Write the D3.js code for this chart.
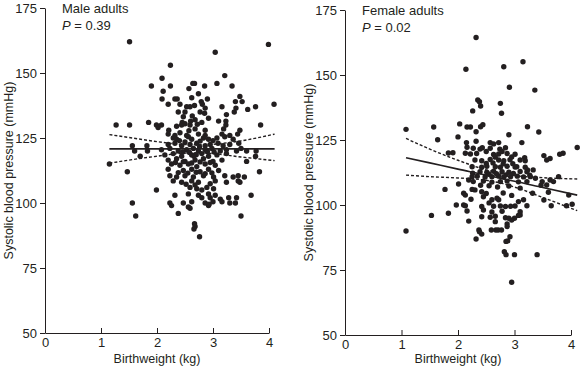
<!DOCTYPE html>
<html>
<head>
<meta charset="utf-8">
<script src="https://cdn.jsdelivr.net/npm/d3@7"></script>
<style>
  body { margin: 0; background: #fff; }
  svg text { font-family: "Liberation Sans", Arial, Helvetica, sans-serif; fill: #231f20; }
</style>
</head>
<body>
<div id="chart"></div>
<script>
// tick values and labels
var yTicks = [50, 75, 100, 125, 150, 175];
var xTicks = [0, 1, 2, 3, 4];

// Male adults: [birthweight kg, systolic mmHg]
var malePoints = [
  [1.51,162],[3.99,161],[3.04,158],[2.24,153],[2.09,148],[3.21,149],[1.9,145],[2.24,145],
  [2.64,146],[2.67,146],[2.85,145],[3.07,146],[3.34,145],[2.11,143],[2.57,144],[2.74,142],
  [2.09,140],[2.32,140],[2.36,140],[2.62,140.5],[2.79,139],[2.81,138],[2.9,140],[3.48,141],
  [3.4,139],[3.52,139],[4.09,138],[2.2,138],[2.41,138],[2.53,137],[2.59,137],[2.67,137.5],
  [2.86,136.5],[3.16,137],[3.41,136.5],[3.62,136],[3.76,137],[2.38,135],[2.5,135],[2.77,135],
  [2.85,134.5],[3.24,134],[3.38,135],[2.68,132],[2.8,131],[3.23,131.5],[2.45,131],[2.6,131.5],
  [1.27,130],[1.51,130],[1.85,131],[1.99,130],[2.02,129],[3.85,130],[2.08,130],[2.35,129.5],
  [2.44,130],[2.5,130.5],[2.59,130],[3.23,130],[2.21,128],[2.68,128.5],[2.86,128],[3.19,128.5],
  [3.48,128],[2.2,126.5],[2.32,126],[2.41,127],[2.53,126],[2.74,126.5],[2.86,126],[3.16,126.5],
  [3.3,126],[3.44,126.5],
  [2.29,125],[2.35,124.5],[2.56,125.5],[2.83,125],[2.92,124.5],[3.07,125],[3.21,125.5],[3.36,124.5],
  [2.2,122.5],[2.32,123],[2.44,122],[2.59,122.5],[2.71,123],[2.86,122],[2.95,122.5],[3.09,123],
  [3.18,122],[3.3,122.5],
  [2.08,120.5],[2.23,121],[2.38,120],[2.53,120.5],[2.65,121],[2.74,120],[2.86,120.5],[2.98,121],
  [3.13,120],[3.24,120.5],[3.42,120],
  [2.14,118.5],[2.29,119],[2.44,118],[2.62,118.5],[2.8,119],[2.92,118],[3.07,118.5],[3.24,119],
  [2.2,116.5],[2.35,117],[2.5,116],[2.68,116.5],[2.83,117],[3.0,116],[3.16,116.5],
  [2.26,115],[2.41,114.5],[2.56,115],[2.71,114],[2.86,115],[3.04,114.5],
  [2.2,113],[2.47,112.5],[2.62,113],[2.77,112],[2.92,113],[3.1,112.5],
  [2.23,110.5],[2.35,110],[2.5,110.5],[2.65,110],[2.83,110.5],[3.01,110],[3.21,110.5],[3.36,110],
  [3.45,110.5],
  [2.29,108.5],[2.44,108],[2.62,108.5],[2.74,108],[3.04,108.5],[3.24,108],[3.45,108.5],
  [1.99,105],[2.59,106],[2.71,105.5],[2.89,106],[3.01,105.5],
  [2.32,103],[2.56,103.5],[2.74,103],[2.92,103.5],[3.04,103],
  [2.95,102],[3.13,101.5],[3.28,102],
  [2.23,100],[2.47,100],[2.62,100.5],[2.86,100],[3.16,100.5],[3.4,100],
  [2.26,99],[2.56,98.5],[2.92,99],[2.38,96],
  [1.15,115],[1.47,112],[1.56,122],[1.6,120],[1.7,118],[1.82,122],[1.83,120],[1.56,100],
  [1.62,95],[3.6,120],[3.77,120],[3.76,118],[3.6,116],[3.83,112],[3.48,108],[3.56,110],
  [3.5,95],[3.68,103],[3.42,102],[3.3,100],[3.46,123],[3.5,121],
  [2.67,92],[2.68,91],[2.66,90],[2.76,87],[2.59,98],[2.8,102],[2.93,99.5],[3.0,100.5],
  [2.4,124],[2.5,123.5],[2.62,124.5],[2.77,123.8],[3.0,124],[2.46,119.6],[2.58,119.4],[2.7,118.6],
  [2.9,119.8],[3.02,119.6],[2.33,115.6],[2.47,115.9],[2.62,115.4],[2.77,115.8],[2.95,115.6],
  [2.38,111.7],[2.55,111.5],[2.7,111.8],[2.86,111.3],[2.98,111.6],[2.68,106.9],[2.8,105],
  [2.52,107.2],[2.95,107.4],[2.66,118],[2.76,121.6],[2.57,127.8],[2.63,133.5],[2.47,133.2],
  [2.92,132.6],[3.1,131.5],[2.72,130.3]
];

// Female adults: [birthweight kg, systolic mmHg]
var femalePoints = [
  [2.32,164.4],[2.14,152.2],[2.81,153.2],[3.15,155.1],[2.91,145.3],[3.36,144.2],[2.35,140.4],
  [2.38,139.7],[2.4,138.1],[2.75,139.1],[2.26,136.2],[2.77,135.3],[3.43,128.1],[2.9,127],
  [3.23,130.1],[2.32,128.2],[2.4,130.1],[2.44,130.9],[1.08,129.1],[1.57,130],[1.64,125.1],
  [2.03,131.2],[2.16,130],[2.22,130],[1.83,120],[2.0,126.2],[1.08,90],[1.53,96],[1.83,96.8],
  [1.77,106],[2.01,108.1],[1.97,100],[2.1,100],[2.19,93.8],[2.37,90.4],[2.42,88.8],[2.32,86.9],
  [2.59,90.4],[2.67,90.4],[2.71,90.4],[2.77,90.4],[2.66,93.6],[2.87,92.7],[2.85,86],[2.88,86.2],
  [2.82,82],[2.85,80.9],[3.0,80.9],[3.4,80.9],[2.95,70.3],[2.92,87.8],[3.0,94.9],[3.1,96.2],
  [3.1,97.4],[4.11,122.1],[3.86,119.9],[3.8,119.5],[3.63,117.9],[3.57,117.3],[3.52,119],
  [3.78,110.9],[3.92,99.7],[3.96,103.8],[3.65,99.7],[3.52,101.9],[3.6,104.9],[3.32,104.5],
  [3.22,99.7],[3.47,107.6],[3.63,109.6],[3.18,118.2],[3.23,113.5],[3.33,113.5],[3.27,111.5],
  [3.37,110.3],[3.49,109],[3.57,107.7],[3.69,109],[4.02,100.3],
  [2.15,124],[2.32,124.5],[2.57,124],[2.63,123.5],[2.72,124],[3.13,124],[1.91,120.1],
  [2.16,122.2],[2.13,119.9],
  [2.27,121.8],[2.39,121.5],[2.43,122],[2.57,121.8],[2.74,121.5],[2.84,122],
  [2.22,119.6],[2.33,119.8],[2.63,119.4],[2.72,119.6],[2.87,119.8],[3.01,119.5],
  [2.3,117.3],[2.42,117],[2.57,117.5],[2.72,117.3],[2.81,117],[2.92,117.4],[3.1,117.3],[3.19,117],
  [2.25,114.7],[2.42,114.5],[2.51,114.9],[2.66,114.7],[2.75,114.5],[2.87,114.9],[3.01,114.6],
  [3.04,114.7],[3.19,114.5],
  [2.39,112.8],[2.51,112.6],[2.63,113],[2.78,112.8],[2.9,112.6],[3.1,112.9],[3.22,112.8],
  [2.25,110.9],[2.34,111.1],[2.48,110.8],[2.6,110.9],[2.72,111.2],[2.81,110.8],[2.93,110.9],
  [3.05,111.1],[3.16,110.8],[3.28,110.9],
  [2.27,109],[2.45,109.2],[2.6,108.8],[2.75,109],[2.87,109.2],[3.07,108.9],[3.22,109],
  [2.19,109.6],[2.26,112.2],[2.1,104.5],[2.3,105.8],
  [2.25,106],[2.42,105.1],[2.45,103.2],[2.13,103.8],[2.13,99.7],[2.23,102.2],[2.16,97.7],
  [2.42,99.4],[2.45,98.1],[2.6,102],[2.69,102.6],[2.72,102],
  [2.63,99.5],[2.75,99.6],[2.84,99.4],[2.93,99.5],[3.01,99.6],[3.07,101.3],[3.16,102],
  [2.42,95.5],[2.57,95.3],[2.66,95.7],[3.07,96],[2.95,94.2],[2.84,95.1],[2.9,94.9],
  [2.87,91.7],[2.38,89.7],
  [2.5,120.6],[2.66,118.4],[2.78,120.6],[2.95,118.5],[2.5,116],[2.62,116.2],[2.8,115.8],
  [2.97,115.9],[2.55,111.8],[2.68,112],[2.85,111.6],[2.98,112.1],[2.4,107.6],[2.55,107.4],
  [2.7,106.9],[2.9,107.3],[3.1,106.5],[2.5,104.4],[2.8,104.6],[2.95,103.7],[2.55,100.8],
  [2.78,97.6],[2.6,97.3]
];

// fitted lines with 95% CI
var maleFitX  = [1.15, 1.5, 2.0, 2.5, 2.8, 3.0, 3.5, 4.1];
var maleFit   = [120.8, 120.8, 120.8, 120.8, 120.8, 120.8, 120.8, 120.8];
var maleLow   = [115.3, 116.5, 118.0, 119.2, 119.3, 119.0, 117.7, 116.3];
var maleHigh  = [126.3, 125.2, 123.6, 122.5, 122.4, 122.6, 123.9, 126.5];

var femaleFitX = [1.08, 1.5, 2.0, 2.5, 2.8, 3.0, 3.5, 4.11];
var femaleFit  = [118.2, 116.2, 113.8, 111.5, 110.0, 109.1, 106.7, 103.8];
var femaleLow  = [111.5, 110.9, 110.4, 109.5, 108.2, 106.9, 102.9, 97.8];
var femaleHigh = [125.6, 121.5, 117.2, 113.5, 111.9, 111.3, 110.5, 110.0];

var svg = d3.select("#chart")
  .append("svg")
    .attr("width", 580)
    .attr("height", 368);

function drawPanel(cfg) {
  var x = d3.scaleLinear().domain([0, 4]).range([cfg.left, cfg.right]);
  var y = d3.scaleLinear().domain([50, 175]).range([cfg.bottom, cfg.top]);
  var g = svg.append("g");

  // Y axis (ticks outward)
  var ya = g.append("g")
    .attr("transform", "translate(" + cfg.left + ",0)")
    .call(d3.axisLeft(y).tickValues(yTicks).tickSize(5).tickSizeOuter(0).tickPadding(3));
  // X axis (ticks inward)
  var xa = g.append("g")
    .attr("transform", "translate(0," + cfg.bottom + ")")
    .call(d3.axisBottom(x).tickValues(xTicks).tickFormat(d3.format("d"))
      .tickSize(-5).tickSizeOuter(0).tickPadding(5));
  xa.selectAll(".tick").filter(function(d) { return d === 0; }).select("line").remove();
  [ya, xa].forEach(function(a) {
    a.selectAll("path, line").attr("stroke", "#231f20");
    a.selectAll("text").attr("font-size", "13px").attr("font-family", null);
  });

  // axis labels
  g.append("text")
    .attr("x", (cfg.left + cfg.right) / 2)
    .attr("y", 363)
    .attr("text-anchor", "middle")
    .attr("font-size", "12.5px")
    .text("Birthweight (kg)");
  g.append("text")
    .attr("transform", "translate(" + (cfg.left - 32) + "," + ((cfg.top + cfg.bottom) / 2) + ")rotate(-90)")
    .attr("text-anchor", "middle")
    .attr("font-size", "12.5px")
    .text("Systolic blood pressure (mmHg)");

  // panel title and P value
  g.append("text")
    .attr("x", cfg.left + 17)
    .attr("y", cfg.top + 5)
    .attr("font-size", "13px")
    .text(cfg.title);
  var p = g.append("text")
    .attr("x", cfg.left + 17)
    .attr("y", cfg.top + 22)
    .attr("font-size", "13px");
  p.append("tspan").attr("font-style", "italic").text("P");
  p.append("tspan").text(" = " + cfg.p);

  // points
  g.append("g")
    .selectAll("circle")
    .data(cfg.points)
    .enter()
    .append("circle")
      .attr("cx", function(d) { return x(d[0]); })
      .attr("cy", function(d) { return y(d[1]); })
      .attr("r", 2.7)
      .attr("fill", "#231f20");

  // regression line and CI
  var line = d3.line()
    .x(function(d) { return x(d[0]); })
    .y(function(d) { return y(d[1]); })
    .curve(d3.curveMonotoneX);
  function pairs(ys) { return cfg.fitX.map(function(v, i) { return [v, ys[i]]; }); }

  g.append("path")
    .datum(pairs(cfg.fit))
    .attr("d", line)
    .attr("fill", "none")
    .attr("stroke", "#231f20")
    .attr("stroke-width", 1.6);
  [cfg.low, cfg.high].forEach(function(ys) {
    g.append("path")
      .datum(pairs(ys))
      .attr("d", line)
      .attr("fill", "none")
      .attr("stroke", "#231f20")
      .attr("stroke-width", 1.4)
      .attr("stroke-dasharray", "3,2");
  });
}

drawPanel({
  left: 45, right: 269, top: 8, bottom: 333,
  title: "Male adults", p: "0.39", points: malePoints,
  fitX: maleFitX, fit: maleFit, low: maleLow, high: maleHigh
});
drawPanel({
  left: 345, right: 571, top: 10, bottom: 335,
  title: "Female adults", p: "0.02", points: femalePoints,
  fitX: femaleFitX, fit: femaleFit, low: femaleLow, high: femaleHigh
});
</script>
</body>
</html>
